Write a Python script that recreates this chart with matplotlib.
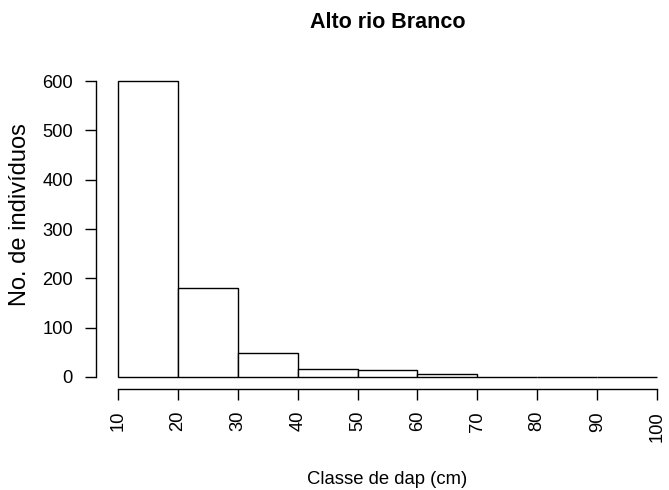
import matplotlib
matplotlib.use("Agg")
import matplotlib.pyplot as plt

# histogram classes (dap, cm) and counts
bin_edges = [10, 20, 30, 40, 50, 60, 70, 80, 90, 100]
counts = [600, 181, 49, 16, 14, 5, 0, 0, 0]
y_ticks = [0, 100, 200, 300, 400, 500, 600]

plt.rcParams["font.family"] = ["Liberation Sans", "DejaVu Sans"]

W, H = 669, 490
fig = plt.figure(figsize=(W / 100, H / 100), dpi=100)

# R-style plot region: data range padded by 4% on each side
x0, x1 = 96.4, 678.6
y0, y1 = 69.2, 388.8
ax = fig.add_axes([x0 / W, 1 - y1 / H, (x1 - x0) / W, (y1 - y0) / H])

lefts = bin_edges[:-1]
widths = [b - a for a, b in zip(bin_edges[:-1], bin_edges[1:])]
ax.bar(lefts, counts, width=widths, align="edge", facecolor="white",
       edgecolor="black", linewidth=1.0)

xpad = 0.04 * (bin_edges[-1] - bin_edges[0])
ypad = 0.04 * (max(y_ticks) - min(y_ticks))
ax.set_xlim(bin_edges[0] - xpad, bin_edges[-1] + xpad)
ax.set_ylim(min(y_ticks) - ypad, max(y_ticks) + ypad)

for side in ("top", "right"):
    ax.spines[side].set_visible(False)
ax.spines["left"].set_bounds(min(y_ticks), max(y_ticks))
ax.spines["bottom"].set_bounds(bin_edges[0], bin_edges[-1])
for side in ("left", "bottom"):
    ax.spines[side].set_linewidth(1.0)

ax.set_xticks(bin_edges)
ax.set_xticklabels([str(v) for v in bin_edges], rotation=90, fontsize=13.2)
ax.set_yticks(y_ticks)
ax.set_yticklabels([str(v) for v in y_ticks], fontsize=13.2)
ax.tick_params(axis="both", direction="out", length=8, width=1.0)
ax.tick_params(axis="y", pad=9)
ax.tick_params(axis="x", pad=8)

# title and x label centred over the plot region, as R does
cx = (x0 + x1) / 2 / W
fig.text(cx, 1 - 27.7 / H, "Alto rio Branco", ha="center", va="baseline",
         fontsize=15.5, fontweight="bold")
fig.text(cx, 1 - 484 / H, "Classe de dap (cm)", ha="center",
         va="baseline", fontsize=13.3)
fig.text(20.5 / W, 1 - 214.5 / H, "No. de indivíduos", ha="center",
         va="center", rotation=90, fontsize=17)

fig.savefig("out.png", dpi=100)
